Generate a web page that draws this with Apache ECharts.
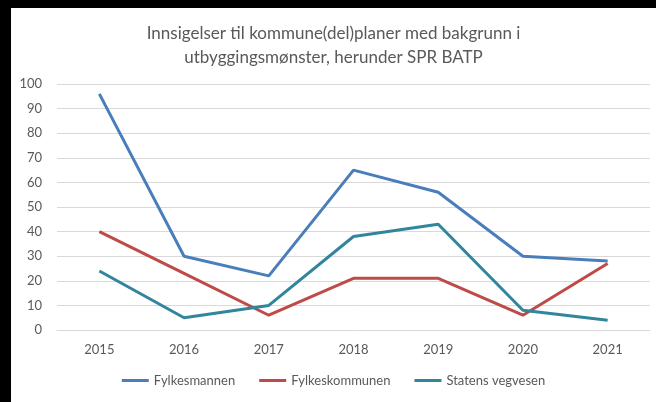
<!DOCTYPE html>
<html>
<head>
<meta charset="utf-8">
<script src="https://cdn.jsdelivr.net/npm/echarts@6/dist/echarts.min.js"></script>
<style>
  html, body { margin: 0; padding: 0; background: #000; }
  #chart { position: absolute; left: 11px; top: 8px; width: 645px; height: 394px; background: #fff; }
</style>
</head>
<body>
<div id="chart"></div>
<script>
var years = ['2015', '2016', '2017', '2018', '2019', '2020', '2021'];
var fylkesmannen = [96, 30, 22, 65, 56, 30, 28];
var fylkeskommunen = [40, 23, 6, 21, 21, 6, 27];
var statensVegvesen = [24, 5, 10, 38, 43, 8, 4];
var seriesNames = ['Fylkesmannen', 'Fylkeskommunen', 'Statens vegvesen'];

var font = 'Lato, "Open Sans", sans-serif';
var textColor = '#595959';

function initLinechart() {
	var chart = echarts.init(document.getElementById('chart'));
	var option = {
		color: ['#4a7ebb', '#be4b48', '#31859c'],
		backgroundColor: '#fff',
		title: {
			text: 'Innsigelser til kommune(del)planer med bakgrunn i\nutbyggingsmønster, herunder SPR BATP',
			left: 'center',
			top: 9,
			textStyle: {
				fontFamily: font,
				fontSize: 17,
				fontWeight: 'normal',
				color: textColor,
				lineHeight: 24
			}
		},
		legend: {
			bottom: 10,
			left: 'center',
			icon: 'rect',
			itemWidth: 27,
			itemHeight: 3,
			itemGap: 24,
			textStyle: { fontFamily: font, fontSize: 13, color: textColor },
			data: seriesNames
		},
		grid: { left: 46, right: 6, top: 76, bottom: 72 },
		xAxis: {
			type: 'category',
			data: years,
			boundaryGap: true,
			axisLine: { lineStyle: { color: '#d9d9d9' } },
			axisTick: { show: false },
			axisLabel: { fontFamily: font, fontSize: 13, color: textColor, margin: 13 }
		},
		yAxis: {
			type: 'value',
			min: 0,
			max: 100,
			interval: 10,
			axisLine: { show: false },
			axisTick: { show: false },
			axisLabel: { fontFamily: font, fontSize: 13, color: textColor, margin: 15 },
			splitLine: { lineStyle: { color: '#d9d9d9', width: 1 } }
		},
		series: [
			{ name: seriesNames[0], type: 'line', data: fylkesmannen, symbol: 'none', lineStyle: { width: 3 } },
			{ name: seriesNames[1], type: 'line', data: fylkeskommunen, symbol: 'none', lineStyle: { width: 3 } },
			{ name: seriesNames[2], type: 'line', data: statensVegvesen, symbol: 'none', lineStyle: { width: 3 } }
		]
	};
	chart.setOption(option);
}

initLinechart();
</script>
</body>
</html>
